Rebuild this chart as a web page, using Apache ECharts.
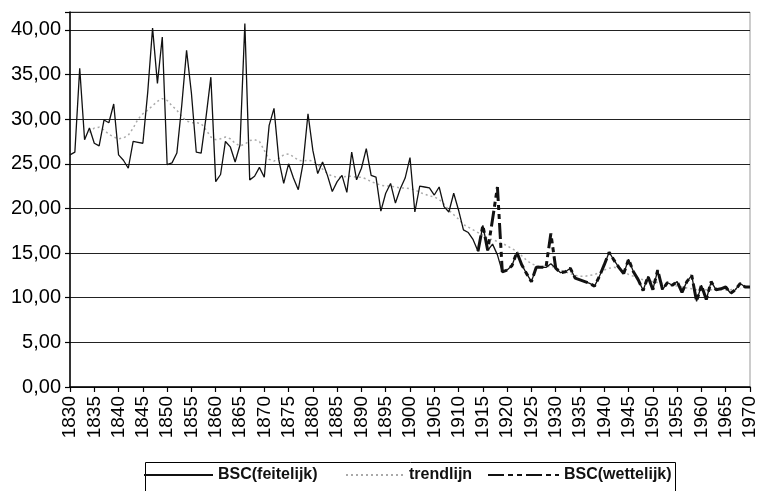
<!DOCTYPE html>
<html><head><meta charset="utf-8">
<script src="https://cdn.jsdelivr.net/npm/echarts@6/dist/echarts.min.js"></script>
<style>html,body{margin:0;padding:0;background:#fff}#c{width:760px;height:491px}</style>
</head><body><div id="c"></div>
<script>
const firstYear = 1830, lastYear = 1970;
const years = [];
for (let y = firstYear; y <= lastYear; y++) years.push(String(y));

// BSC(feitelijk) 1830..1970
const feitelijk = [
  26.0, 26.3, 35.7, 27.7, 29.0, 27.3, 27.0, 29.9, 29.6, 31.7,   // 1830-1839
  26.0, 25.4, 24.5, 27.5, 27.4, 27.3, 33.0, 40.2, 34.0, 39.2,   // 1840-1849
  24.9, 25.1, 26.2, 31.5, 37.7, 32.9, 26.3, 26.2, 30.2, 34.7,   // 1850-1859
  23.0, 23.8, 27.5, 26.9, 25.2, 27.1, 40.7, 23.2, 23.6, 24.6,   // 1860-1869
  23.5, 29.3, 31.2, 25.4, 22.8, 25.0, 23.4, 22.1, 25.1, 30.6,   // 1870-1879
  26.5, 23.9, 25.2, 23.7, 21.9, 23.0, 23.7, 21.8, 26.3, 23.2,   // 1880-1889
  24.5, 26.7, 23.7, 23.5, 19.7, 21.7, 22.8, 20.6, 22.2, 23.4,   // 1890-1899
  25.7, 19.6, 22.5, 22.4, 22.3, 21.5, 22.4, 20.2, 19.6, 21.7,   // 1900-1909
  19.8, 17.6, 17.3, 16.5, 15.2, 18.1, 15.3, 16.0, 14.8, 12.9,   // 1910-1919
  13.1, 13.6, 15.1, 13.7, 12.7, 11.8, 13.4, 13.4, 13.4, 13.8,   // 1920-1929
  13.3, 12.8, 12.9, 13.3, 12.2, 12.0, 11.8, 11.6, 11.3, 12.4,   // 1930-1939
  13.7, 15.1, 14.2, 13.4, 12.7, 14.3, 12.9, 12.0, 10.8, 12.4,   // 1940-1949
  10.9, 13.1, 10.9, 11.7, 11.4, 11.8, 10.6, 11.8, 12.5, 9.6,    // 1950-1959
  11.4, 9.8, 11.8, 10.9, 11.0, 11.2, 10.5, 10.9, 11.6, 11.2,    // 1960-1969
  11.2                                                          // 1970
];

// BSC(wettelijk) 1914..1970
const wettelijkStart = 1914;
const wettelijk = [
  15.2, 18.1, 15.3, 18.8, 22.4, 12.9,                           // 1914-1919
  13.1, 13.6, 15.1, 13.7, 12.7, 11.8, 13.4, 13.4, 13.4, 17.2,   // 1920-1929
  13.3, 12.8, 12.9, 13.3, 12.2, 12.0, 11.8, 11.6, 11.3, 12.4,   // 1930-1939
  13.7, 15.1, 14.2, 13.4, 12.7, 14.3, 12.9, 12.0, 10.8, 12.4,   // 1940-1949
  10.9, 13.1, 10.9, 11.7, 11.4, 11.8, 10.6, 11.8, 12.5, 9.6,    // 1950-1959
  11.4, 9.8, 11.8, 10.9, 11.0, 11.2, 10.5, 10.9, 11.6, 11.2,    // 1960-1969
  11.2                                                          // 1970
];

// trendlijn 1834..1968
const trendStart = 1834;
const trend = [
  28.5, 29.0, 29.1, 28.8, 28.3, 28.0,                           // 1834-1839
  27.8, 27.9, 28.2, 29.0, 30.0, 30.6, 31.0, 31.5, 32.0, 32.3,   // 1840-1849
  32.1, 31.5, 31.0, 30.3, 29.8, 29.6, 29.6, 29.5, 28.8, 28.0,   // 1850-1859
  27.7, 27.8, 28.0, 27.8, 27.3, 27.0, 27.2, 27.6, 27.7, 27.5,   // 1860-1869
  26.5, 25.5, 25.3, 25.6, 26.0, 26.1, 25.8, 25.4, 25.3, 25.4,   // 1870-1879
  25.3, 24.9, 24.4, 23.9, 23.6, 23.5, 23.5, 23.6, 23.6, 23.5,   // 1880-1889
  23.5, 23.3, 23.0, 22.8, 22.6, 22.5, 22.5, 22.4, 22.3, 22.3,   // 1890-1899
  22.2, 22.1, 21.8, 21.6, 21.4, 21.3, 21.0, 20.5, 19.8, 19.3,   // 1900-1909
  18.8, 18.2, 17.9, 17.6, 17.3, 17.0, 16.6, 16.5, 16.3, 16.1,   // 1910-1919
  15.8, 15.5, 15.2, 14.7, 14.2, 13.8, 13.6, 13.5, 13.5, 13.5,   // 1920-1929
  13.4, 13.1, 12.9, 12.7, 12.5, 12.4, 12.4, 12.5, 12.6, 12.8,   // 1930-1939
  13.1, 13.3, 13.4, 13.3, 13.0, 12.6, 12.4, 12.2, 12.0, 11.9,   // 1940-1949
  11.8, 11.7, 11.6, 11.5, 11.4, 11.3, 11.2, 11.1, 11.0, 10.9,   // 1950-1959
  10.9, 10.9, 10.9, 10.9, 10.9, 10.9, 10.9, 11.0, 11.0          // 1960-1968
];

const yTickValues = [0, 5, 10, 15, 20, 25, 30, 35, 40];
const legendNames = ['BSC(feitelijk)', 'trendlijn', 'BSC(wettelijk)'];

function place(startYear, values) {
  const out = years.map(() => null);
  values.forEach((v, i) => { out[startYear - firstYear + i] = v; });
  return out;
}

const FONT = '"Liberation Sans", Arial, sans-serif';
const chart = echarts.init(document.getElementById('c'), null, {renderer: 'canvas'});
const labelEvery5 = (i) => i % 5 === 0;
const legendText = {fontSize: 16, fontWeight: 'bold', color: '#111', fontFamily: FONT};
const hiddenSymbol = {opacity: 0};

chart.setOption({
  animation: false,
  backgroundColor: '#fff',
  grid: {left: 70, right: 10, top: 12, bottom: 104, show: true, borderColor: '#999', borderWidth: 1, backgroundColor: 'transparent'},
  xAxis: {
    type: 'category', data: years, boundaryGap: false,
    axisLine: {lineStyle: {color: '#000', width: 1.5}},
    axisTick: {interval: labelEvery5, length: 5, lineStyle: {color: '#000', width: 1.2}},
    axisLabel: {interval: labelEvery5, rotate: 90, fontSize: 19, color: '#000', fontFamily: FONT, margin: 9},
    splitLine: {show: false}
  },
  yAxis: {
    type: 'value', min: 0, max: 42, interval: 5,
    axisLine: {show: true, lineStyle: {color: '#000', width: 1.5}},
    axisTick: {show: true, length: 5, lineStyle: {color: '#000', width: 1.2}},
    axisLabel: {
      fontSize: 20, color: '#000', fontFamily: FONT, margin: 9,
      formatter: (v) => yTickValues.indexOf(v) >= 0 ? v.toFixed(2).replace('.', ',') : ''
    },
    splitLine: {lineStyle: {color: '#222', width: 1}}
  },
  legend: [
    {data: [legendNames[0]], left: 143, top: 467, padding: 0, itemWidth: 69, itemHeight: 14,
     itemStyle: hiddenSymbol, textStyle: legendText},
    {data: [legendNames[1]], left: 345, top: 467, padding: 0, itemWidth: 58, itemHeight: 14,
     itemStyle: hiddenSymbol, textStyle: legendText},
    {data: [legendNames[2]], left: 487, top: 467, padding: 0, itemWidth: 71, itemHeight: 14,
     itemStyle: hiddenSymbol, textStyle: legendText}
  ],
  graphic: [{
    type: 'rect', shape: {x: 145.5, y: 462.5, width: 530, height: 40},
    style: {fill: 'none', stroke: '#000', lineWidth: 1}, silent: true
  }],
  series: [
    {name: legendNames[1], type: 'line', data: place(trendStart, trend), symbol: 'none', z: 1,
     lineStyle: {color: '#aaa', width: 1.5, type: [2, 3]}, itemStyle: {color: '#aaa'}},
    {name: legendNames[0], type: 'line', data: feitelijk, symbol: 'none', z: 2,
     lineStyle: {color: '#111', width: 1.3}, itemStyle: {color: '#111'}},
    {name: legendNames[2], type: 'line', data: place(wettelijkStart, wettelijk), symbol: 'none', z: 3,
     lineStyle: {color: '#111', width: 3, type: [16, 4, 5, 4, 5, 4]}, itemStyle: {color: '#111'}}
  ]
});
</script>
</body></html>
